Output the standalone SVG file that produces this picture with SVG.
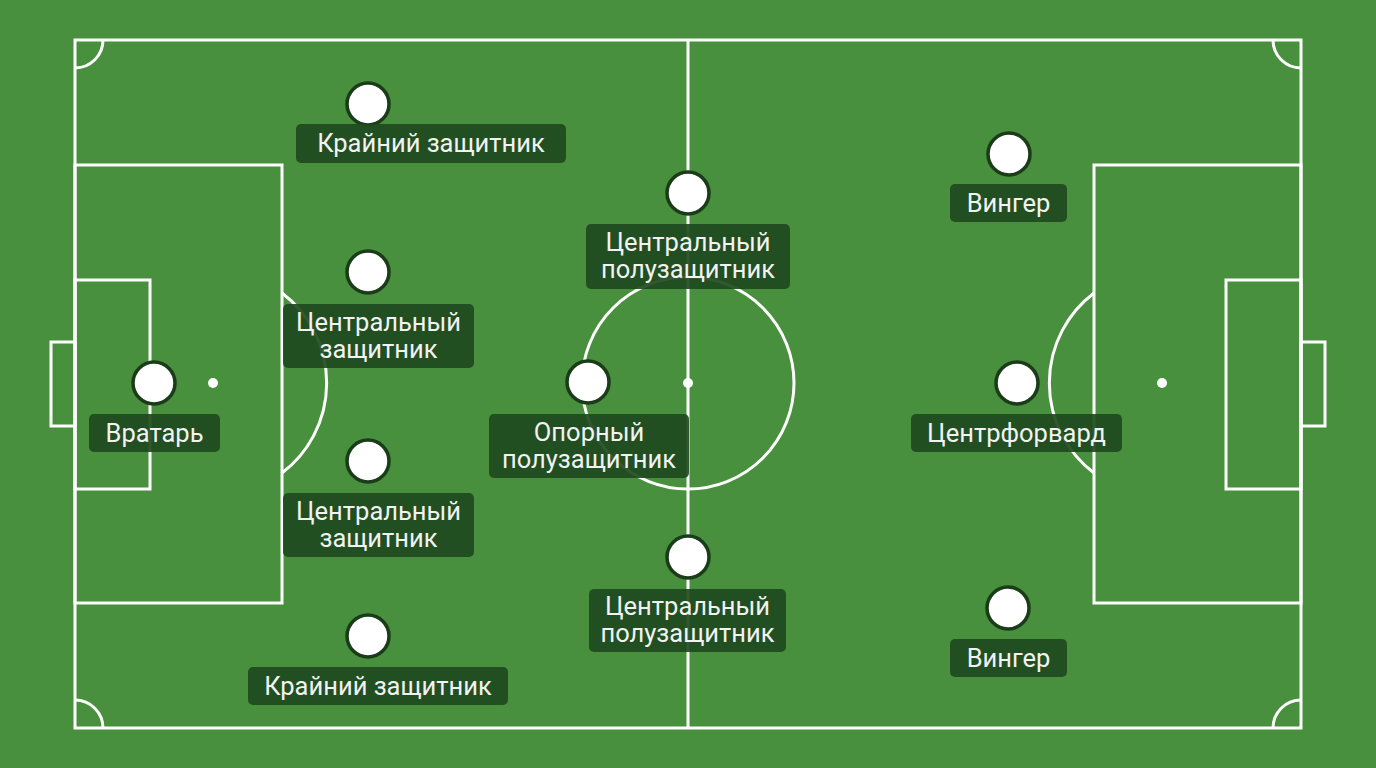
<svg xmlns="http://www.w3.org/2000/svg" width="1376" height="768" viewBox="0 0 1376 768">
<style>
.ln{fill:none;stroke:#ffffff;stroke-width:3}
.spot{fill:#ffffff}
.pl{fill:#ffffff;stroke:#1a3c19;stroke-width:3.5}
.lb{fill:#1f4a1e;fill-opacity:0.92}
.tx{fill:#f2f2f2;font-family:Roboto,"Noto Sans","Liberation Sans",sans-serif;font-size:25.5px;text-anchor:middle}
</style>
<rect x="0" y="0" width="1376" height="768" fill="#48903d"/>
<g id="pitch">
<rect class="ln" x="75" y="40" width="1226" height="688"/>
<line class="ln" x1="688" y1="40" x2="688" y2="728"/>
<circle class="ln" cx="688" cy="383" r="106"/>
<circle class="spot" cx="688" cy="383" r="5"/>
<rect class="ln" x="75" y="165" width="207" height="438"/>
<rect class="ln" x="75" y="280" width="75" height="209"/>
<rect class="ln" x="51" y="342" width="24" height="84"/>
<circle class="spot" cx="213" cy="383" r="5"/>
<path class="ln" d="M282 293 A113 113 0 0 1 282 473"/>
<rect class="ln" x="1094" y="165" width="207" height="438"/>
<rect class="ln" x="1226" y="280" width="75" height="209"/>
<rect class="ln" x="1301" y="342" width="24" height="84"/>
<circle class="spot" cx="1162" cy="383" r="5"/>
<path class="ln" d="M1094 293 A113 113 0 0 0 1094 473"/>
<path class="ln" d="M75 68 A28 28 0 0 0 103 40"/>
<path class="ln" d="M1273 40 A28 28 0 0 0 1301 68"/>
<path class="ln" d="M75 700 A28 28 0 0 1 103 728"/>
<path class="ln" d="M1273 728 A28 28 0 0 1 1301 700"/>
</g>
<g id="connectors"></g>
<g id="gk"><circle class="pl" cx="154" cy="383" r="21"/><rect class="lb" x="89" y="414" width="131" height="38" rx="5"/><text class="tx" x="154.5" y="442">Вратарь</text></g>
<g id="lb-top"><circle class="pl" cx="368" cy="104" r="21"/><rect class="lb" x="296" y="124" width="270" height="39" rx="5"/><text class="tx" x="431" y="152">Крайний защитник</text></g>
<g id="cb-top"><circle class="pl" cx="368" cy="272" r="21"/><rect class="lb" x="283" y="304" width="191" height="64" rx="5"/><text class="tx" x="378.5" y="331">Центральный</text><text class="tx" x="378.5" y="358">защитник</text></g>
<g id="cb-bot"><circle class="pl" cx="368" cy="461" r="21"/><rect class="lb" x="283" y="493" width="191" height="64" rx="5"/><text class="tx" x="378.5" y="520">Центральный</text><text class="tx" x="378.5" y="547">защитник</text></g>
<g id="fb-bot"><circle class="pl" cx="368" cy="636" r="21"/><rect class="lb" x="248" y="667" width="260" height="38" rx="5"/><text class="tx" x="378" y="695">Крайний защитник</text></g>
<g id="cm-top"><circle class="pl" cx="688" cy="193" r="21"/><rect class="lb" x="586" y="224" width="204" height="65" rx="5"/><text class="tx" x="688" y="251">Центральный</text><text class="tx" x="688" y="278">полузащитник</text></g>
<g id="dm"><circle class="pl" cx="588" cy="382" r="21"/><rect class="lb" x="489" y="414" width="200" height="64" rx="5"/><text class="tx" x="589" y="441">Опорный</text><text class="tx" x="589" y="468">полузащитник</text></g>
<g id="cm-bot"><circle class="pl" cx="688" cy="557" r="21"/><rect class="lb" x="589" y="589" width="197" height="63" rx="5"/><text class="tx" x="687.5" y="615">Центральный</text><text class="tx" x="687.5" y="642">полузащитник</text></g>
<g id="w-top"><circle class="pl" cx="1009" cy="154" r="21"/><rect class="lb" x="950" y="184" width="117" height="38" rx="5"/><text class="tx" x="1008.5" y="212">Вингер</text></g>
<g id="st"><circle class="pl" cx="1017" cy="383" r="21"/><rect class="lb" x="911" y="414" width="211" height="38" rx="5"/><text class="tx" x="1016.5" y="442">Центрфорвард</text></g>
<g id="w-bot"><circle class="pl" cx="1008" cy="608" r="21"/><rect class="lb" x="950" y="639" width="117" height="38" rx="5"/><text class="tx" x="1008.5" y="667">Вингер</text></g>
</svg>
